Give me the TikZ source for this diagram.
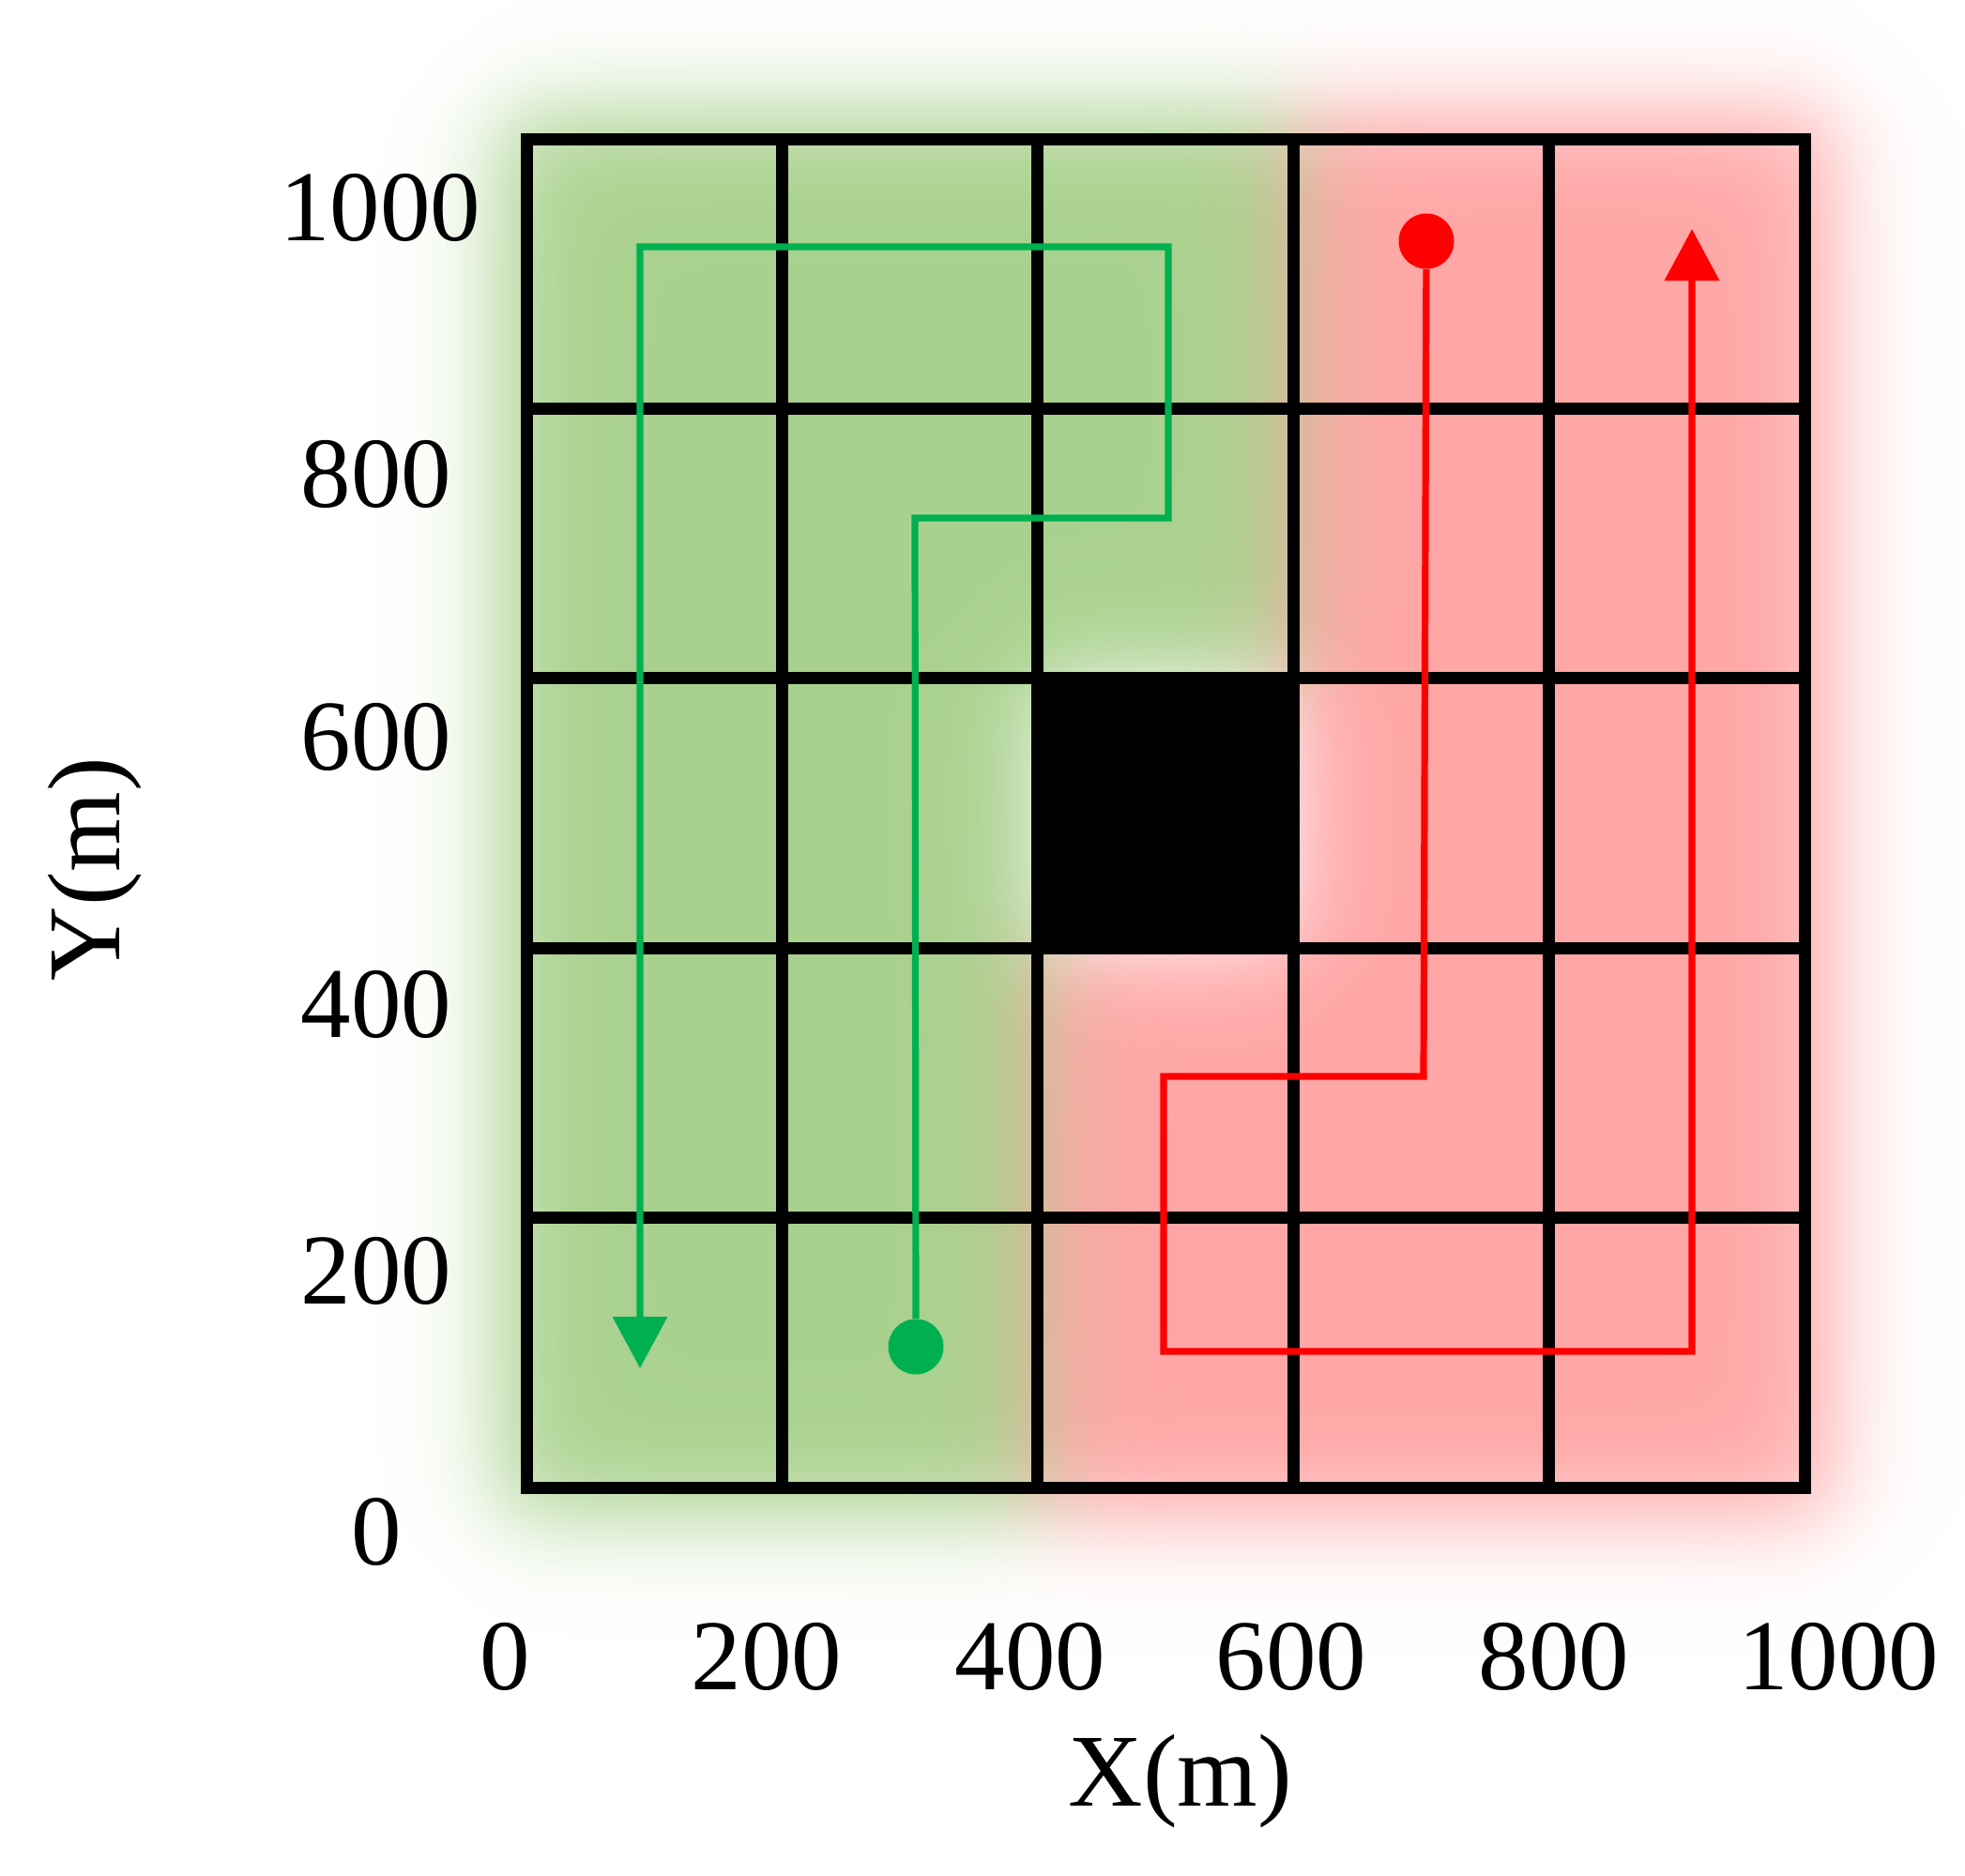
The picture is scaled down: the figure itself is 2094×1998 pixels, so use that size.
\documentclass[tikz,border=0pt]{standalone}
\usepackage{fontspec}
\setmainfont{Liberation Serif}
\usetikzlibrary{arrows.meta}
\definecolor{gline}{HTML}{00B050}
\definecolor{rline}{HTML}{FF0000}
% logistic approximation of a Gaussian edge (sigma = 50 px)
\def\Lf#1{#1 sub -0.03404 mul dup 50 gt {pop 50} if 2.71828 exch exp 1 add 1 exch div }
% blurred green / red regions (coordinates converted from bp to pixels of the picture)
\pgfdeclarefunctionalshading{blurbg}{\pgfpointorigin}{\pgfpoint{1047pt}{999pt}}{}{%
2.0075 mul neg 1998 add exch 2.0075 mul
dup \Lf{531} 1 index \Lf{1105.8} 2 index \Lf{1378.2} 3 index \Lf{1953}
1 index exch sub exch 2 index exch sub 3 index 3 index sub
6 3 roll pop pop pop
3 index
dup \Lf{118} 1 index \Lf{722.8} 2 index \Lf{1010.2} 3 index \Lf{1615}
3 index 1 index sub 2 index 2 index sub 5 index 5 index sub
8 3 roll pop pop pop pop pop
7 -1 roll pop
3 index 3 index mul 5 index 2 index mul add
6 index 4 index mul 6 index 4 index mul add
8 2 roll pop pop pop pop pop pop
1 index 0.3373 mul 1 index 0 mul add 1 exch sub
2 index 0.1804 mul 2 index 0.349 mul add 1 exch sub
3 index 0.4431 mul 3 index 0.349 mul add 1 exch sub
5 3 roll pop pop
}
\tikzset{
  gridline/.style={line width=6.5pt, black},
  gpath/.style={line width=3.6pt, gline, -{Triangle[width=28.5pt,length=27.5pt]}},
  rpath/.style={line width=3.6pt, rline, -{Triangle[width=28.5pt,length=27.5pt]}},
  gdot/.style={circle, fill=gline, inner sep=0pt, minimum size=29.5pt},
  rdot/.style={circle, fill=rline, inner sep=0pt, minimum size=29.5pt},
  tick/.style={inner sep=0pt, font=\fontsize{53.5}{60}\selectfont},
  axlab/.style={inner sep=0pt, font=\fontsize{55}{64}\selectfont},
}
\begin{document}
\begin{tikzpicture}[x=0.5pt,y=-0.5pt]
\def\XA{561}\def\XB{833.4}\def\XC{1105.8}\def\XD{1378.2}\def\XE{1650.6}\def\XF{1923}
\def\YA{148}\def\YB{435.4}\def\YC{722.8}\def\YD{1010.2}\def\YE{1297.6}\def\YF{1585}
\useasboundingbox (0,0) rectangle (2094,1998);
\node[inner sep=0pt, outer sep=0pt, anchor=south west] (bg) at (0,1998) {\pgfuseshading{blurbg}};
% obstacle
\fill[black] (\XC,\YC) rectangle (\XD,\YD);
% grid
\draw[gridline] (\XA,\YA) rectangle (\XF,\YF);
\foreach \x in {\XB,\XC,\XD,\XE} \draw[gridline] (\x,\YA) -- (\x,\YF);
\foreach \y in {\YB,\YC,\YD,\YE} \draw[gridline] (\XA,\y) -- (\XF,\y);
% green path
\node[gdot] (gs) at (976,1435) {};
\coordinate (ge) at (682,1458);
\draw[gpath] (gs) -- (975,552) -- (1245,552) -- (1245,263) -- (682,263) -- (ge);
% red path
\node[rdot] (rs) at (1520,257) {};
\coordinate (re) at (1803,244);
\draw[rpath] (rs) -- (1517,1147) -- (1240,1147) -- (1240,1440) -- (1803,1440) -- (re);
% tick labels
\node[tick] (y1000) at (405,221) {1000};
\node[tick] (y800) at (401,505) {800};
\node[tick] (y600) at (401,785) {600};
\node[tick] (y400) at (401,1070) {400};
\node[tick] (y200) at (401,1354) {200};
\node[tick] (y0) at (401,1632) {0};
\node[tick] (x0) at (538,1765) {0};
\node[tick] (x200) at (817,1765) {200};
\node[tick] (x400) at (1098,1765) {400};
\node[tick] (x600) at (1376,1765) {600};
\node[tick] (x800) at (1656,1765) {800};
\node[tick] (x1000) at (1959,1765) {1000};
\node[axlab] (xl) at (1258,1898) {X(m)};
\node[axlab, rotate=90] (yl) at (101,926) {Y(m)};
\end{tikzpicture}
\end{document}
